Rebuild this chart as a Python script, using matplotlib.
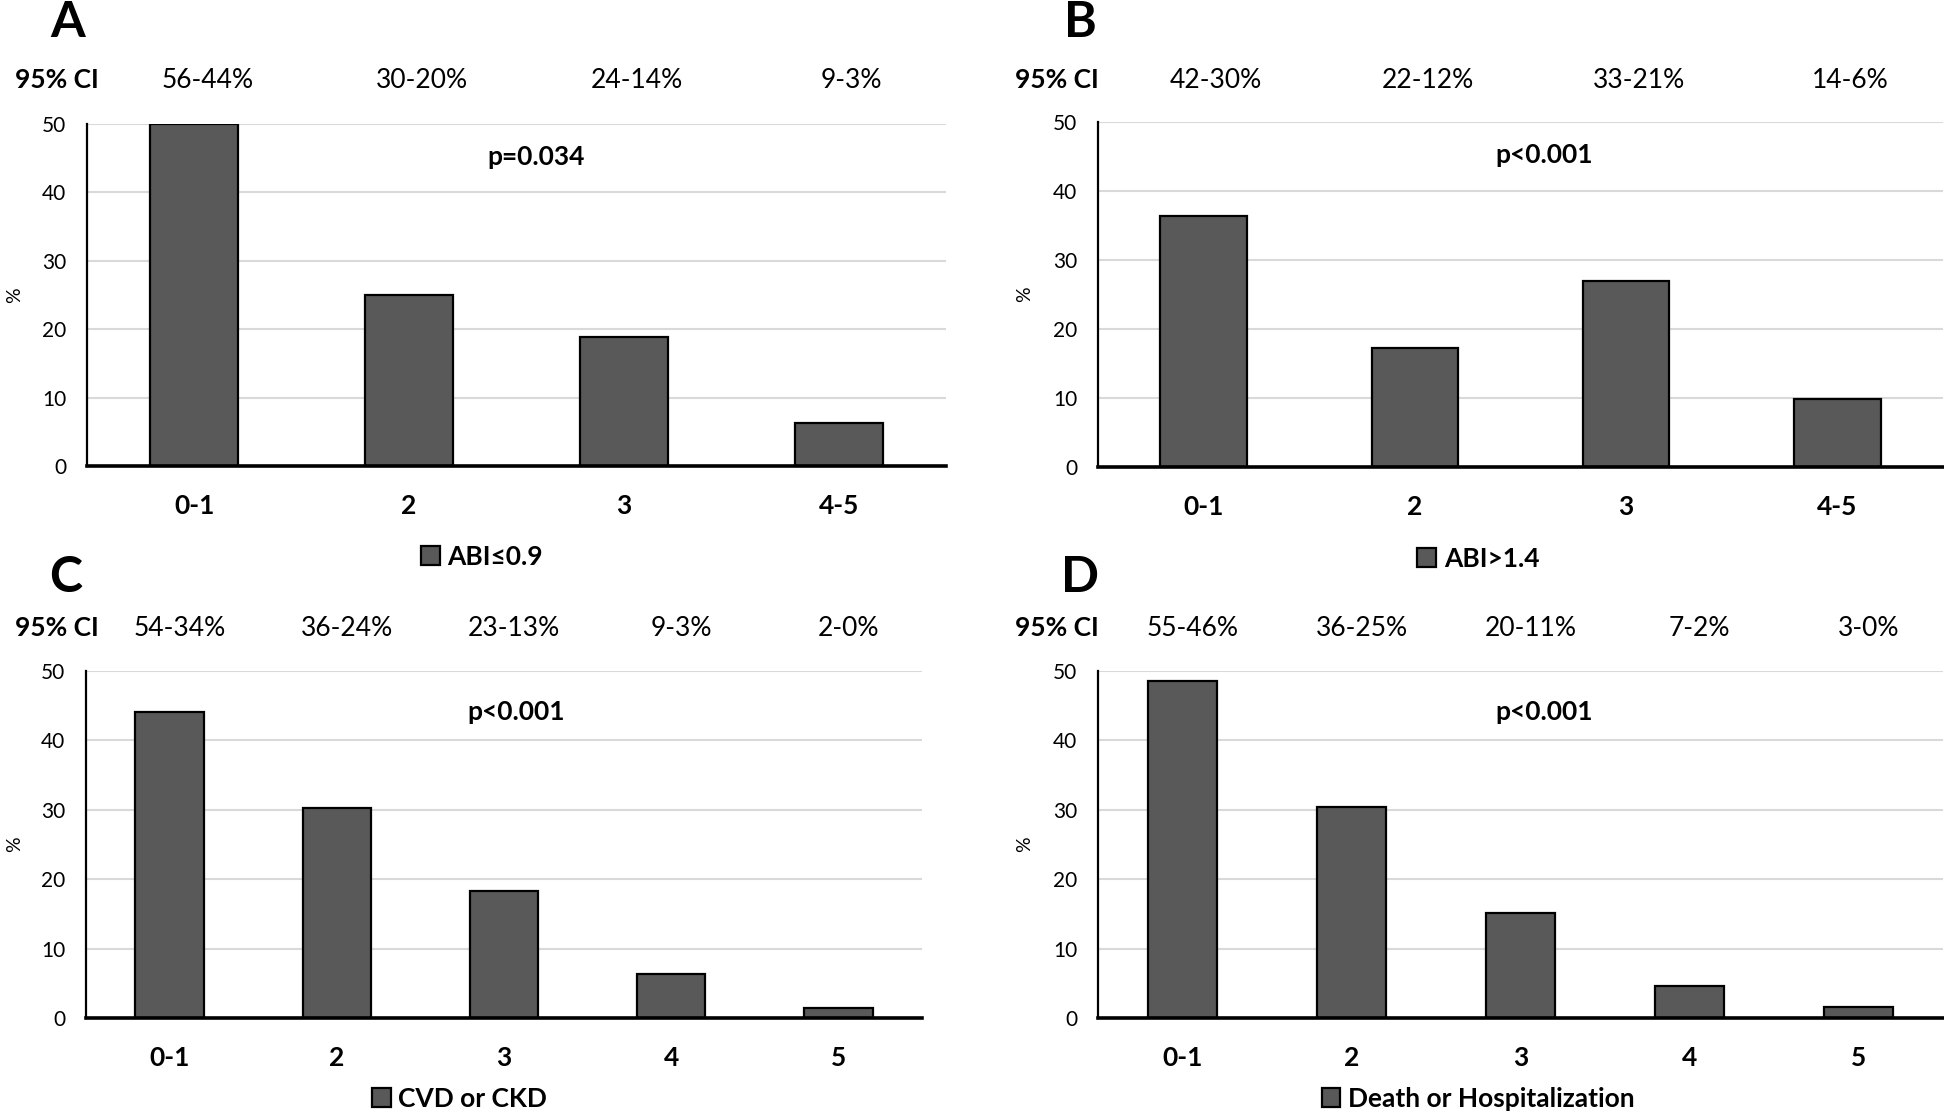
"""Four-panel bar chart: event rates by score group with 95% CI row."""

import matplotlib
import matplotlib.pyplot as plt
from matplotlib import transforms

matplotlib.use("Agg")

plt.rcParams["font.family"] = ["Lato", "DejaVu Sans"]

W, H = 1944, 1117

A_CATEGORIES = ["0-1", "2", "3", "4-5"]
A_VALUES = [50.0, 25.0, 18.8, 6.3]
A_CI = ["56-44%", "30-20%", "24-14%", "9-3%"]

B_CATEGORIES = ["0-1", "2", "3", "4-5"]
B_VALUES = [36.4, 17.2, 26.9, 9.9]
B_CI = ["42-30%", "22-12%", "33-21%", "14-6%"]

C_CATEGORIES = ["0-1", "2", "3", "4", "5"]
C_VALUES = [44.1, 30.2, 18.3, 6.4, 1.5]
C_CI = ["54-34%", "36-24%", "23-13%", "9-3%", "2-0%"]

D_CATEGORIES = ["0-1", "2", "3", "4", "5"]
D_VALUES = [48.5, 30.4, 15.2, 4.6, 1.6]
D_CI = ["55-46%", "36-25%", "20-11%", "7-2%", "3-0%"]

P_TEXTS = ["p=0.034", "p<0.001", "p<0.001", "p<0.001"]
LEGEND_LABELS = ["ABI\u22640.9", "ABI>1.4", "CVD or CKD", "Death or Hospitalization"]
PANEL_LETTERS = ["A", "B", "C", "D"]

BAR_COLOR = "#595959"
GRID_COLOR = "#d9d9d9"
TEXT_SIZE = 19


def fx(px):
    return px / W


def fy(py):
    return 1 - py / H


def px_rect(left, top, right, bottom):
    return [left / W, 1 - bottom / H, (right - left) / W, (bottom - top) / H]


# layout in reference pixels: axes box, letter baseline, CI baseline, p text, legend
LAYOUT = [
    dict(rect=(87, 124, 946, 466), letter=(68, 37), ci_y=88, ci_x=57,
         p_pos=(0.523, 0.904), leg=(0.46, -0.266), pct_x=15),
    dict(rect=(1098, 122, 1943, 467), letter=(1080, 37), ci_y=88, ci_x=1057,
         p_pos=(0.528, 0.904), leg=(0.45, -0.266), pct_x=1025),
    dict(rect=(86, 671, 922, 1018), letter=(66, 592), ci_y=636, ci_x=57,
         p_pos=(0.515, 0.882), leg=(0.447, -0.233), pct_x=15),
    dict(rect=(1098, 671, 1943, 1018), letter=(1080, 592), ci_y=636, ci_x=1057,
         p_pos=(0.528, 0.882), leg=(0.45, -0.233), pct_x=1025),
]

PANELS = [
    (A_CATEGORIES, A_VALUES, A_CI),
    (B_CATEGORIES, B_VALUES, B_CI),
    (C_CATEGORIES, C_VALUES, C_CI),
    (D_CATEGORIES, D_VALUES, D_CI),
]

fig = plt.figure(figsize=(W / 100, H / 100), dpi=100)
fig.patch.set_facecolor("white")

for i, ((cats, vals, ci), lay) in enumerate(zip(PANELS, LAYOUT)):
    ax = fig.add_axes(px_rect(*lay["rect"]))
    x = list(range(len(cats)))
    bars = ax.bar(x, vals, width=0.41, color=BAR_COLOR, edgecolor="black",
                  linewidth=1.6, zorder=3, label=LEGEND_LABELS[i])

    ax.set_xlim(-0.5, len(cats) - 0.5)
    ax.set_ylim(0, 50)
    ax.set_yticks([0, 10, 20, 30, 40, 50])
    ax.set_xticks(x)
    ax.set_xticklabels(cats, fontsize=TEXT_SIZE, fontweight="bold")
    ax.tick_params(axis="x", length=0, pad=20)
    ax.tick_params(axis="y", length=0, pad=15, labelsize=15)
    ax.grid(axis="y", color=GRID_COLOR, linewidth=1.5, zorder=0)
    ax.set_axisbelow(True)
    for side in ("top", "right"):
        ax.spines[side].set_visible(False)
    ax.spines["left"].set_linewidth(1.6)
    ax.spines["bottom"].set_linewidth(2.6)
    ax.spines["bottom"].set_zorder(4)

    # panel letter
    lx, ly = lay["letter"]
    fig.text(fx(lx), fy(ly), PANEL_LETTERS[i], fontsize=36, fontweight="bold",
             ha="center", va="baseline")

    # 95% CI row
    fig.text(fx(lay["ci_x"]), fy(lay["ci_y"]), "95% CI", fontsize=TEXT_SIZE,
             fontweight="bold", ha="center", va="baseline")
    trans = transforms.blended_transform_factory(ax.transData, fig.transFigure)
    for xi, label in zip(x, ci):
        ax.text(xi + 0.06, fy(lay["ci_y"]), label, transform=trans,
                fontsize=TEXT_SIZE, ha="center", va="baseline")

    # p value
    ax.text(*lay["p_pos"], P_TEXTS[i], transform=ax.transAxes, fontsize=TEXT_SIZE,
            fontweight="bold", ha="center", va="center")

    # y label
    left, top, right, bottom = lay["rect"]
    fig.text(fx(lay["pct_x"]), fy((top + bottom) / 2), "%", rotation=90,
             fontsize=14, ha="center", va="center")

    ax.legend(handles=[bars], loc="center", bbox_to_anchor=lay["leg"],
              frameon=False, handlelength=0.7, handleheight=0.7,
              handletextpad=0.3, prop={"size": TEXT_SIZE, "weight": "bold"})

fig.savefig("out.png", dpi=100)
